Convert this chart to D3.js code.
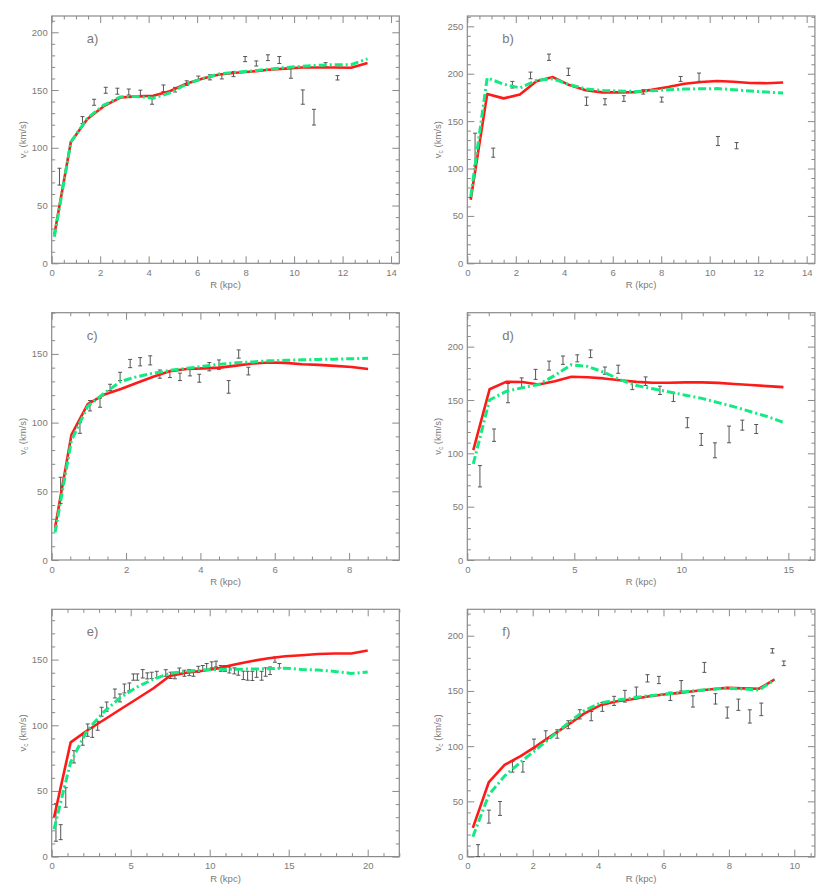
<!DOCTYPE html>
<html><head><meta charset="utf-8">
<script src="https://cdn.jsdelivr.net/npm/d3@7"></script>
<style>
body{margin:0;background:#fff}
svg{display:block}
text{font-family:"Liberation Sans",Arial,sans-serif}
</style>
</head><body><svg id="c" width="830" height="890"></svg>
<script>
// ---------- data ----------
const R_A = [0.11,0.79,1.47,2.15,2.83,3.51,4.19,4.87,5.55,6.23,6.91,7.59,8.27,8.95,9.63,10.31,10.99,11.67,12.35,13.03];
const RED_A = [25,105,125,136,143.5,144.5,145,149,155.5,160,163.5,165,166,167.5,168.5,169.5,169.5,169.5,169.3,173.5];
const GREEN_A = [23,105,125.5,137,144,144.5,143,147.5,155,160,164,165.5,166.5,168,169.5,170.5,171.5,172,172,177];
const ER_A = [0.32,1.27,1.75,2.23,2.71,3.18,3.66,4.14,4.61,5.09,5.57,6.05,6.53,7.02,7.50,7.98,8.44,8.92,9.39,9.87,10.36,10.82,11.30,11.79];
const EV_A = [75,124,139.4,149.8,149,148.3,147,140.3,151.5,150.3,156,160.4,161,161.8,163.8,176.8,173,178,176,164.5,143.9,126.5,172,160.6];
const EE_A = [7.3,3,2.6,2.6,2.6,2.6,2.9,2.6,2.9,2,2,1.7,2.2,2.2,2.2,2.2,2.2,2.5,3,4.3,6.2,6.8,1.7,1.9];

const R_B = [0.14,0.82,1.50,2.17,2.85,3.53,4.21,4.89,5.57,6.24,6.92,7.60,8.28,8.96,9.64,10.31,10.99,11.67,12.35,13.03];
const RED_B = [67,178.5,174,178,192,196.5,188,182.5,180.3,180.3,180.6,183,186,189.5,191.2,192.3,191.5,190.2,190,190.8];
const GREEN_B = [70,195.5,189,185,193,194.7,188.5,184,182.4,181.7,181.3,182,183,183.8,184.2,184.3,183.2,181.8,180.6,179.6];
const ER_B = [0.32,1.07,1.86,2.61,3.37,4.17,4.92,5.68,6.46,7.26,8.02,8.80,9.56,10.34,11.11];
const EV_B = [120,116.7,188.4,198.2,217.4,202,171,170.4,173.8,180.8,172.7,194.5,196.3,129,124.1];
const EE_B = [17.3,4.8,3.5,3.5,3.3,3.9,4.4,3.2,3,2.3,2.6,2.6,4.4,4.8,3.3];

const R_C = [0.09,0.53,0.97,1.42,1.86,2.30,2.75,3.19,3.63,4.08,4.52,4.96,5.41,5.85,6.29,6.74,7.18,7.62,8.07,8.51];
const RED_C = [23.5,91,113.5,120.5,124.5,129,133.5,137.5,139,139.5,140,141.5,143,143.7,143.5,142.5,142,141.3,140.5,139];
const GREEN_C = [20,87,112,121.5,130,133.5,136,138,139.5,141,142.5,143.5,144.2,145,145.3,145.7,146,146.2,146.5,146.8];
const ER_C = [0.24,0.76,1.03,1.30,1.57,1.84,2.11,2.38,2.65,2.91,3.18,3.45,3.72,3.97,4.24,4.50,4.76,5.03,5.29];
const EV_C = [50.7,96.1,112.3,114.5,125.6,133.6,143,144.3,145.3,135.3,135,133.3,136.4,132.3,140.7,142.2,126,149.9,137.5];
const EE_C = [9.5,3.9,3.8,3.3,2.3,3,3,3,3.3,3,2.2,2.7,2.4,2.9,3,3.4,4.6,3,2.8];

const R_D = [0.28,1.04,1.81,2.57,3.33,4.09,4.86,5.62,6.38,7.14,7.91,8.67,9.43,10.19,10.96,11.72,12.48,13.25,14.01,14.77];
const RED_D = [103,160,167,166.8,164.5,167.5,171.7,171.3,170.2,168.5,167,166.2,166.2,166.5,166.5,166,165,164,163,162];
const GREEN_D = [90,150,158,161.5,164.5,173,183,181.5,176,169,163.5,160.5,157.5,154.5,151.5,147.5,143.5,139,134.5,129];
const ER_D = [0.59,1.25,1.90,2.54,3.19,3.82,4.47,5.14,5.76,6.43,7.05,7.71,8.33,9.00,9.63,10.28,10.93,11.57,12.23,12.85,13.50];
const EV_D = [78.5,117,156.4,166,174,182.2,187.3,189,193.3,177.5,178.8,163.3,167.6,159,152.5,128.7,113,102.8,117.7,126.4,122.8];
const EE_D = [10,5.8,9,4.7,4.7,4.2,3.9,3.3,3.6,3.4,3.8,3.6,4,3.9,3.9,4.7,5.6,7,7.8,4.7,4.2];

const R_E = [0.15,1.20,2.24,3.29,4.33,5.38,6.42,7.47,8.51,9.56,10.60,11.65,12.69,13.74,14.78,15.83,16.87,17.92,18.96,20.00];
const RED_E = [30,87,96,104,112,120,128,137.5,140,141.5,143.5,146.5,149,151,152.5,153.3,154.3,154.6,154.6,157];
const GREEN_E = [21,72,96,110,121,129,135,139.5,141,142,142.5,142.7,142.8,143,143.5,142.5,142,141,139.5,140.5];
const ER_E = [0.27,0.57,0.89,1.41,1.96,2.28,2.57,2.91,3.16,3.48,4.00,4.32,4.60,4.92,5.17,5.42,5.76,6.05,6.33,6.65,7.22,7.53,7.80,8.08,8.40,8.71,8.97,9.28,9.56,9.81,10.13,10.40,10.70,10.97,11.24,11.56,11.81,12.13,12.40,12.70,12.97,13.29,13.54,13.82,14.13,14.41];
const EV_E = [26,18.6,45,76,88.8,96.3,94.4,99.6,110.3,114.2,124.2,120.8,128,129.3,136.7,136.7,139.2,137.6,138,138.6,139.8,138,137.9,141.1,139.6,140.1,139.6,142.6,143.3,144.7,146,146.6,143.3,143.3,142.1,141.4,140.5,138,137.7,137.6,139.7,137.7,140.5,141.5,150,145.3];
const EE_E = [14.3,5.7,7.4,4.7,4,4.7,3.6,3.4,3.4,3.5,3.4,3,3.4,2.9,2.4,2.4,3.2,2.3,2.4,2.5,2.5,2.4,2.5,2.5,2.3,2.3,2.3,2.3,2.2,2.3,2.3,2.2,2.2,2.2,2.3,2.3,2.4,3.2,3.4,3.5,3.2,3.4,3.2,2.9,2,1.7];

const R_F = [0.17,0.66,1.14,1.63,2.11,2.60,3.09,3.57,4.06,4.54,5.03,5.52,6.00,6.49,6.97,7.46,7.95,8.43,8.92,9.40];
const RED_F = [26,67.5,83,91,100,110,119.5,129.5,137,140.5,142.5,145,146.8,148.2,150,151.5,152.8,152.3,152,160.5];
const GREEN_F = [18,56,73,85.5,97,109,121,132,139,141.5,143.5,145.5,147,148.5,150.3,151.5,152.5,151.8,150.8,160];
const ER_F = [0.33,0.66,1.00,1.38,1.70,2.04,2.40,2.75,3.09,3.44,3.79,4.13,4.49,4.82,5.17,5.51,5.86,6.21,6.54,6.90,7.25,7.59,7.95,8.29,8.64,8.99,9.33,9.68];
const EV_F = [5.2,36.2,43.6,81.3,81.3,101.9,109.5,111,119.4,128.8,127.2,135.5,141,145.2,149.3,161.4,159.9,145.1,154.7,140.5,171.3,142.8,130.4,137.5,126.9,133.3,186.3,175];
const EE_F = [5.6,5.9,6.3,4.8,4.8,4.5,4.4,3.8,3.6,4.2,4.2,4,4.1,5.3,4.2,3.3,3.3,3.8,4.7,5.1,4.5,4.7,5,5.1,6,5.7,2,2.1];

const PANEL_LABELS = ["a)","b)","c)","d)","e)","f)"];
const X_TITLE = "R (kpc)";

// ---------- panel setup ----------
const panels = [
  {lab:PANEL_LABELS[0], r:R_A, red:RED_A, green:GREEN_A, er:ER_A, ev:EV_A, ee:EE_A, xmax:14.34, ymax:214.1, xs:2, xm:0.5, ys:50, ym:10},
  {lab:PANEL_LABELS[1], r:R_B, red:RED_B, green:GREEN_B, er:ER_B, ev:EV_B, ee:EE_B, xmax:14.34, ymax:260.9, xs:2, xm:0.5, ys:50, ym:10},
  {lab:PANEL_LABELS[2], r:R_C, red:RED_C, green:GREEN_C, er:ER_C, ev:EV_C, ee:EE_C, xmax:9.35, ymax:180.0, xs:2, xm:0.5, ys:50, ym:10},
  {lab:PANEL_LABELS[3], r:R_D, red:RED_D, green:GREEN_D, er:ER_D, ev:EV_D, ee:EE_D, xmax:16.24, ymax:231.8, xs:5, xm:1, ys:50, ym:10},
  {lab:PANEL_LABELS[4], r:R_E, red:RED_E, green:GREEN_E, er:ER_E, ev:EV_E, ee:EE_E, xmax:22.0, ymax:188.3, xs:5, xm:1, ys:50, ym:10},
  {lab:PANEL_LABELS[5], r:R_F, red:RED_F, green:GREEN_F, er:ER_F, ev:EV_F, ee:EE_F, xmax:10.63, ymax:223.9, xs:2, xm:0.5, ys:50, ym:10}
];

const W = 347.6, H = 247.3;
const lefts = [51.7, 467.3], tops = [16, 312.7, 609.3];
const AX = "#8a8a8a", TXT = "#7a7a7a", ERRC = "#555", RED = "#ff1a1a", GREEN = "#12ea82";

const svg = d3.select("#c");

function ticksOf(max, step){ const t=[]; for(let v=0; v<=max+1e-9; v+=step) t.push(+v.toFixed(6)); return t; }

panels.forEach((p, i) => {
  const col = i % 2, row = Math.floor(i / 2);
  const g = svg.append("g").attr("transform", `translate(${lefts[col]},${tops[row]})`);
  const x = d3.scaleLinear().domain([0, p.xmax]).range([0, W]);
  const y = d3.scaleLinear().domain([0, p.ymax]).range([H, 0]);

  const xMaj = ticksOf(p.xmax, p.xs), xMin = ticksOf(p.xmax, p.xm).filter(v => Math.abs(v/p.xs - Math.round(v/p.xs)) > 1e-6);
  const yMaj = ticksOf(p.ymax, p.ys), yMin = ticksOf(p.ymax, p.ym).filter(v => Math.abs(v/p.ys - Math.round(v/p.ys)) > 1e-6);

  function styleAxis(sel){
    sel.attr("color", AX);
    sel.select(".domain").remove();
    sel.selectAll("line").attr("stroke-width", 1);
    sel.selectAll("text").attr("fill", TXT).attr("font-size", 9.5);
  }
  g.append("g").attr("transform", `translate(0,${H})`)
    .call(d3.axisBottom(x).tickValues(xMaj).tickSize(-7).tickPadding(6).tickFormat(d3.format("d"))).call(styleAxis);
  g.append("g").attr("transform", `translate(0,${H})`)
    .call(d3.axisBottom(x).tickValues(xMin).tickSize(-3.5).tickFormat("")).call(styleAxis);
  g.append("g").call(d3.axisTop(x).tickValues(xMaj).tickSize(-7).tickFormat("")).call(styleAxis);
  g.append("g").call(d3.axisTop(x).tickValues(xMin).tickSize(-3.5).tickFormat("")).call(styleAxis);
  g.append("g").call(d3.axisLeft(y).tickValues(yMaj).tickSize(-7).tickPadding(4).tickFormat(d3.format("d"))).call(styleAxis);
  g.append("g").call(d3.axisLeft(y).tickValues(yMin).tickSize(-3.5).tickFormat("")).call(styleAxis);
  g.append("g").attr("transform", `translate(${W},0)`)
    .call(d3.axisRight(y).tickValues(yMaj).tickSize(-7).tickFormat("")).call(styleAxis);
  g.append("g").attr("transform", `translate(${W},0)`)
    .call(d3.axisRight(y).tickValues(yMin).tickSize(-3.5).tickFormat("")).call(styleAxis);

  g.append("rect").attr("x", 0).attr("y", 0).attr("width", W).attr("height", H)
    .attr("fill", "none").attr("stroke", AX).attr("stroke-width", 1.2);

  // error bars
  const eb = g.append("g").attr("stroke", ERRC).attr("stroke-width", 1);
  p.er.forEach((r, k) => {
    const cx = x(r), y1 = y(p.ev[k] + p.ee[k]), y0 = y(Math.max(0, p.ev[k] - p.ee[k]));
    eb.append("line").attr("x1", cx).attr("x2", cx).attr("y1", y1).attr("y2", y0);
    eb.append("line").attr("x1", cx - 2).attr("x2", cx + 2).attr("y1", y1).attr("y2", y1);
    eb.append("line").attr("x1", cx - 2).attr("x2", cx + 2).attr("y1", y0).attr("y2", y0);
  });

  const line = d3.line().x(d => x(d[0])).y(d => y(d[1]));
  g.append("path").datum(p.r.map((r, k) => [r, p.red[k]]))
    .attr("d", line).attr("fill", "none").attr("stroke", RED).attr("stroke-width", 2.6).attr("stroke-linejoin", "round");
  g.append("path").datum(p.r.map((r, k) => [r, p.green[k]]))
    .attr("d", line).attr("fill", "none").attr("stroke", GREEN).attr("stroke-width", 3)
    .attr("stroke-dasharray", "8,3,2,3");

  // labels
  g.append("text").attr("x", 35).attr("y", 27).attr("font-size", 13).attr("fill", TXT).text(p.lab);
  g.append("text").attr("x", W / 2).attr("y", H + 25).attr("text-anchor", "middle")
    .attr("font-size", 9.5).attr("fill", TXT).text(X_TITLE);
  const yt = g.append("text").attr("transform", `translate(-26,${H / 2}) rotate(-90)`)
    .attr("text-anchor", "middle").attr("font-size", 9.5).attr("fill", TXT);
  yt.append("tspan").text("v");
  yt.append("tspan").attr("font-size", 6.5).attr("dy", 2).text("c");
  yt.append("tspan").attr("dy", -2).text(" (km/s)");
});
</script>
</body></html>
